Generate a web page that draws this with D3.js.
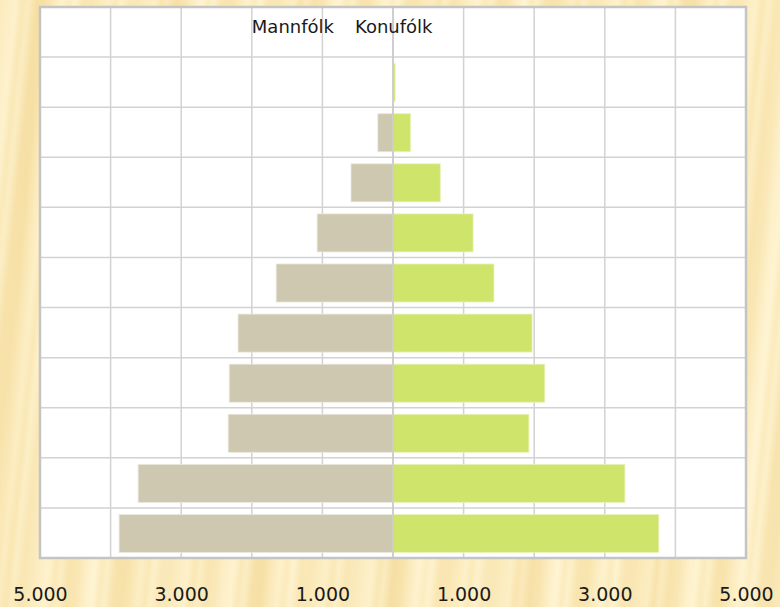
<!DOCTYPE html>
<html>
<head>
<meta charset="utf-8">
<script src="https://cdn.jsdelivr.net/npm/d3@7"></script>
<style>
  html, body { margin: 0; padding: 0; }
  body { width: 780px; height: 607px; overflow: hidden; }
</style>
</head>
<body>
<div id="viz"></div>
<script>
// Age groups, youngest first (axis labels are hidden in the original)
var ageGroups = ["0-9", "10-19", "20-29", "30-39", "40-49", "50-59", "60-69", "70-79", "80-89", "90+"];
var seriesNames = ["Mannfólk", "Konufólk"];
var maleValues = [3880, 3610, 2335, 2320, 2195, 1655, 1075, 595, 215, 0];
var femaleValues = [3765, 3285, 1925, 2150, 1970, 1430, 1135, 670, 250, 30];
var tickValues = [-5000, -3000, -1000, 1000, 3000, 5000];

var width = 780,
	height = 607,
	plotLeft = 40,
	plotRight = 746,
	plotTop = 7,
	plotBottom = 558;

var rows = [""].concat(ageGroups.slice().reverse());

var data = ageGroups.map((g, i) => ({group: g, male: maleValues[i], female: femaleValues[i]}));

var svg = d3.select("#viz")
	.append("svg")
	.attr("width", width)
	.attr("height", height);

// Wood-like striped background
var defs = svg.append("defs");
var grad = defs.append("linearGradient")
	.attr("id", "stripes")
	.attr("gradientUnits", "userSpaceOnUse")
	.attr("x1", 0).attr("y1", 0)
	.attr("x2", 46).attr("y2", 0)
	.attr("spreadMethod", "repeat")
	.attr("gradientTransform", "rotate(6)");
[[0, "#f8e3ac"], [0.18, "#fcedc2"], [0.35, "#fff4d2"], [0.5, "#fae8b5"], [0.62, "#fdf1cc"], [0.8, "#f7e1a8"], [1, "#f8e3ac"]]
	.forEach(s => grad.append("stop").attr("offset", s[0]).attr("stop-color", s[1]));
var grad2 = defs.append("linearGradient")
	.attr("id", "stripes2")
	.attr("gradientUnits", "userSpaceOnUse")
	.attr("x1", 0).attr("y1", 0)
	.attr("x2", 131).attr("y2", 0)
	.attr("spreadMethod", "repeat")
	.attr("gradientTransform", "rotate(4)");
[[0, "#fff6d8"], [0.3, "#f4da98"], [0.55, "#fff6d8"], [0.8, "#f9e5ae"], [1, "#fff6d8"]]
	.forEach(s => grad2.append("stop").attr("offset", s[0]).attr("stop-color", s[1]));

svg.append("rect").attr("width", width).attr("height", height).style("fill", "url(#stripes)");
svg.append("rect").attr("width", width).attr("height", height).style("fill", "url(#stripes2)").style("opacity", 0.35);

var x = d3.scaleLinear().domain([-5000, 5000]).range([plotLeft, plotRight]);
var y = d3.scaleBand().domain(rows).range([plotTop, plotBottom]).padding(0);

// Plot area
svg.append("rect")
	.attr("x", plotLeft)
	.attr("y", plotTop)
	.attr("width", plotRight - plotLeft)
	.attr("height", plotBottom - plotTop)
	.style("fill", "white");

// Grid
svg.selectAll(".vgrid")
	.data(d3.range(-4000, 5000, 1000))
	.enter()
	.append("line")
	.attr("class", "vgrid")
	.attr("x1", d => x(d)).attr("x2", d => x(d))
	.attr("y1", plotTop).attr("y2", plotBottom)
	.style("stroke", "#d2d2d2")
	.style("stroke-width", 1.5);

svg.selectAll(".hgrid")
	.data(rows.slice(1))
	.enter()
	.append("line")
	.attr("class", "hgrid")
	.attr("x1", plotLeft).attr("x2", plotRight)
	.attr("y1", d => y(d)).attr("y2", d => y(d))
	.style("stroke", "#d2d2d2")
	.style("stroke-width", 1.5);

// Bars
var barOffset = y.bandwidth() * 0.13,
	barHeight = y.bandwidth() * 0.76;

svg.selectAll(".male")
	.data(data)
	.enter()
	.append("rect")
	.attr("class", "male")
	.attr("x", d => x(-d.male))
	.attr("y", d => y(d.group) + barOffset)
	.attr("width", d => x(0) - x(-d.male))
	.attr("height", barHeight)
	.style("fill", "#cec8b1")
	.style("stroke", "#ece9df")
	.style("stroke-width", 0.8);

svg.selectAll(".female")
	.data(data)
	.enter()
	.append("rect")
	.attr("class", "female")
	.attr("x", x(0))
	.attr("y", d => y(d.group) + barOffset)
	.attr("width", d => x(d.female) - x(0))
	.attr("height", barHeight)
	.style("fill", "#cfe46b")
	.style("stroke", "#eaf3bf")
	.style("stroke-width", 0.8);

// Centre line
svg.append("line")
	.attr("x1", x(0)).attr("x2", x(0))
	.attr("y1", plotTop).attr("y2", plotBottom)
	.style("stroke", "#c8c8c8")
	.style("stroke-width", 1.5);

// Plot border
svg.append("rect")
	.attr("x", plotLeft)
	.attr("y", plotTop)
	.attr("width", plotRight - plotLeft)
	.attr("height", plotBottom - plotTop)
	.style("fill", "none")
	.style("stroke", "#c4c4c4")
	.style("stroke-width", 2.5);

// Series labels in the top row
svg.append("text")
	.attr("x", 334)
	.attr("y", 33)
	.attr("text-anchor", "end")
	.text(seriesNames[0]);
svg.append("text")
	.attr("x", 355)
	.attr("y", 33)
	.attr("text-anchor", "start")
	.text(seriesNames[1]);

svg.selectAll("text")
	.style("font-family", "DejaVu Sans, Verdana, sans-serif")
	.style("font-size", "18px")
	.style("fill", "#1a1a1a");

// Bottom axis
var fmt = d3.formatLocale({decimal: ",", thousands: ".", grouping: [3], currency: ["", ""]}).format(",.0f");
var axis = svg.append("g")
	.attr("transform", `translate(0, ${plotBottom})`)
	.call(d3.axisBottom(x).tickValues(tickValues).tickFormat(d => fmt(Math.abs(d))).tickSize(0));
axis.select(".domain").remove();
axis.selectAll("text")
	.attr("y", 42.5)
	.attr("dy", 0)
	.style("font-family", "DejaVu Sans, Verdana, sans-serif")
	.style("font-size", "19px")
	.style("fill", "#1a1a1a");
</script>
</body>
</html>
